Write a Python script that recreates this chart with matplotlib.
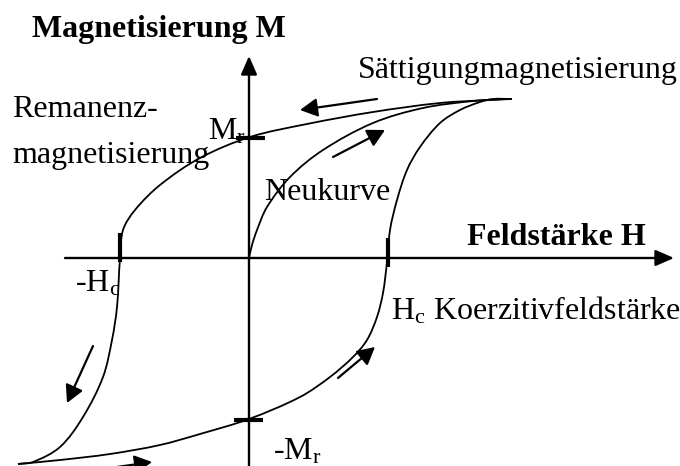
import numpy as np
import matplotlib
matplotlib.use('Agg')
from matplotlib import pyplot as plt
from matplotlib.path import Path
from matplotlib.patches import PathPatch, FancyArrowPatch

plt.rcParams['font.family'] = ['Liberation Serif', 'DejaVu Serif']
plt.rcParams['mathtext.fontset'] = 'custom'
plt.rcParams['mathtext.rm'] = 'Liberation Serif'
plt.rcParams['mathtext.it'] = 'Liberation Serif:italic'

# drawing works in canvas units (x right, y down)
W, H = 680, 466

# descending branch: saturation -> +Mr -> -Hc -> negative saturation
upper_x = [512, 490, 440, 373, 307, 250, 200, 160, 135, 123, 120, 117, 112, 103, 83, 60, 33, 18]
upper_y = [99, 100, 103, 112, 124, 137, 158, 185, 210, 230, 258, 307, 340, 377, 417, 447, 462, 464]

# ascending branch: negative saturation -> -Mr -> +Hc -> saturation
lower_x = [18, 60, 110, 160, 200, 249, 300, 330, 353, 367, 377, 383, 387, 390, 397, 407, 420, 440, 460, 480, 493, 512]
lower_y = [464, 460, 454, 445, 434, 419, 397, 377, 357, 340, 317, 293, 262, 230, 200, 170, 147, 123, 110, 102, 99, 99]

# virgin curve from the origin
neu_x = [249, 252, 257, 267, 290, 323, 373, 423, 473, 505]
neu_y = [258, 245, 230, 207, 177, 150, 123, 108, 101, 99]

# direction arrows (tail, head)
arrows = [((377, 99), (300, 110)),
          ((333, 157), (385, 130)),
          ((93, 346), (67, 403)),
          ((117, 467), (152, 462)),
          ((338, 378), (375, 347))]


def smooth_path(xs, ys):
    # chord-length spline through the points, as cubic Bezier segments
    p = np.column_stack([xs, ys]).astype(float)
    d = np.hypot(*np.diff(p, axis=0).T)
    t = np.zeros_like(p)
    t[0] = (p[1] - p[0]) / d[0]
    t[-1] = (p[-1] - p[-2]) / d[-1]
    for i in range(1, len(p) - 1):
        t[i] = (p[i + 1] - p[i - 1]) / (d[i - 1] + d[i])
    verts = [p[0]]
    codes = [Path.MOVETO]
    for i in range(len(p) - 1):
        verts += [p[i] + t[i] * d[i] / 3, p[i + 1] - t[i + 1] * d[i] / 3, p[i + 1]]
        codes += [Path.CURVE4] * 3
    return Path(verts, codes)


fig = plt.figure(figsize=(W / 100, H / 100), dpi=100)
ax = fig.add_axes([0, 0, 1, 1])
ax.set_xlim(0, W)
ax.set_ylim(H, 0)
ax.axis('off')

# axes with arrow heads
for tail, head in [((249, 470), (249, 56)), ((65, 258), (674, 258))]:
    ax.add_patch(FancyArrowPatch(tail, head, arrowstyle='-|>,head_length=0.8,head_width=0.35',
                                 mutation_scale=14, color='black', lw=1.7, shrinkA=0, shrinkB=0))

for xs, ys in [(upper_x, upper_y), (lower_x, lower_y), (neu_x, neu_y)]:
    ax.add_patch(PathPatch(smooth_path(xs, ys), fill=False, lw=1.3, color='black'))

for tail, head in arrows:
    ax.add_patch(FancyArrowPatch(tail, head, arrowstyle='-|>,head_length=0.75,head_width=0.4',
                                 mutation_scale=14, color='black', lw=1.6, shrinkA=0, shrinkB=0))

# remanence and coercivity markers
ax.plot([236, 265], [138, 138], color='black', lw=3, solid_capstyle='butt')
ax.plot([234, 263], [420, 420], color='black', lw=3, solid_capstyle='butt')
ax.plot([120, 120], [233, 262], color='black', lw=3, solid_capstyle='butt')
ax.plot([388, 388], [238, 267], color='black', lw=3, solid_capstyle='butt')

fs = 23
ax.text(32, 37, 'Magnetisierung M', fontsize=fs, fontweight='bold', va='baseline')
ax.text(467, 245, 'Feldstärke H', fontsize=fs, fontweight='bold', va='baseline')
ax.text(358, 78, 'Sättigungmagnetisierung', fontsize=fs, va='baseline')
ax.text(12, 117, 'Remanenz-', fontsize=fs, va='baseline')
ax.text(12, 163, 'magnetisierung', fontsize=fs, va='baseline')
ax.text(208, 140, r'M$_\mathrm{r}$', fontsize=fs, va='baseline')
ax.text(264, 200, 'Neukurve', fontsize=fs, va='baseline')
ax.text(75, 292, r'-H$_\mathrm{c}$', fontsize=fs, va='baseline')
ax.text(391, 319, r'H$_\mathrm{c}$ Koerzitivfeldstärke', fontsize=fs, va='baseline')
ax.text(273, 460, r'-M$_\mathrm{r}$', fontsize=fs, va='baseline')

fig.savefig('out.png', dpi=100)
